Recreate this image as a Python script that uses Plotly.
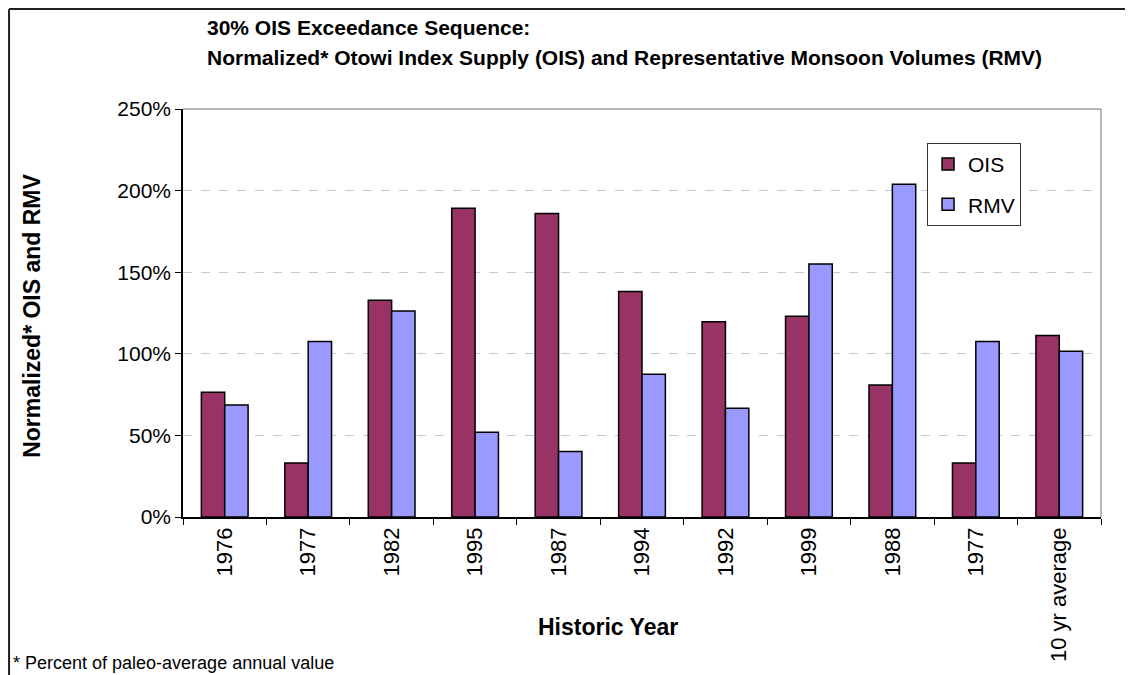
import plotly.graph_objects as go

# categories (1977 shows up twice in the sequence)
year_labels = ["1976", "1977", "1982", "1995", "1987", "1994",
               "1992", "1999", "1988", "1977", "10 yr average"]
# normalized values, fraction of paleo-average annual value
ois = [0.764, 0.331, 1.328, 1.892, 1.859, 1.381, 1.197, 1.230, 0.809, 0.331, 1.112]
rmv = [0.686, 1.075, 1.262, 0.519, 0.401, 0.874, 0.666, 1.550, 2.039, 1.075, 1.015]

x_pos = list(range(len(year_labels)))
FONT = "Liberation Sans, Arial, sans-serif"

fig = go.Figure()
fig.add_trace(go.Bar(x=x_pos, y=ois, name="OIS", legendgroup="a",
                     marker=dict(color="#993366", line=dict(color="black", width=1.5))))
fig.add_trace(go.Bar(x=x_pos, y=rmv, name="RMV", legendgroup="b",
                     marker=dict(color="#9999FF", line=dict(color="black", width=1.5))))

# page body adds 8px, so the figure is 8px smaller and margins shifted
fig.update_layout(
    width=1125, height=667,
    margin=dict(l=175, r=32, t=101, b=158),
    paper_bgcolor="white", plot_bgcolor="white",
    font=dict(family=FONT, color="black", size=20),
    barmode="group", bargap=0.44, bargroupgap=0,
    showlegend=True,
    legend=dict(x=0.8105, y=0.917, xanchor="left", yanchor="top",
                bgcolor="white", bordercolor="#333333", borderwidth=1,
                font=dict(size=21), tracegroupgap=10, traceorder="grouped"),
)

fig.update_xaxes(
    range=[-0.5, len(year_labels) - 0.5],
    tickmode="array", tickvals=x_pos, ticktext=year_labels,
    tickangle=-90, ticks="", showgrid=False, zeroline=False,
    showline=True, linecolor="black", linewidth=1.5,
    tickfont=dict(size=22),
    minor=dict(tickmode="array", tickvals=[i - 0.5 for i in range(len(year_labels) + 1)],
               ticks="outside", ticklen=6, tickcolor="black", showgrid=False),
)
fig.update_yaxes(
    range=[0, 2.5], dtick=0.5, tickformat=".0%",
    ticks="outside", ticklen=6, tickcolor="black",
    showline=True, linecolor="black", linewidth=1.5,
    showgrid=True, gridcolor="#C8C8C8", griddash="dash", gridwidth=1,
    zeroline=False, tickfont=dict(size=21),
)

# plot area border (top/right) and outer chart frame
fig.add_shape(type="line", xref="paper", yref="paper", x0=0, x1=1, y0=1, y1=1,
              line=dict(color="#A0A0A0", width=1.5))
fig.add_shape(type="line", xref="paper", yref="paper", x0=1, x1=1, y0=0, y1=1,
              line=dict(color="#A0A0A0", width=1.5))
fig.add_shape(type="line", xref="paper", yref="paper", x0=-0.1895, x1=1.1, y0=1.245, y1=1.245,
              line=dict(color="#222222", width=2))
fig.add_shape(type="line", xref="paper", yref="paper", x0=-0.1895, x1=-0.1895, y0=1.245, y1=-0.5,
              line=dict(color="#222222", width=2))

# titles and notes
fig.add_annotation(text="<b>30% OIS Exceedance Sequence:</b>", xref="paper", yref="paper",
                   x=0.024, y=1.199, xanchor="left", yanchor="middle", showarrow=False,
                   font=dict(size=21))
fig.add_annotation(text="<b>Normalized* Otowi Index Supply (OIS) and Representative Monsoon Volumes (RMV)</b>",
                   xref="paper", yref="paper", x=0.024, y=1.127, xanchor="left", yanchor="middle",
                   showarrow=False, font=dict(size=21))
fig.add_annotation(text="<b>Normalized* OIS and RMV</b>", xref="paper", yref="paper",
                   x=-0.1645, y=0.493, xanchor="center", yanchor="middle", textangle=-90,
                   showarrow=False, font=dict(size=23))
fig.add_annotation(text="<b>Historic Year</b>", xref="paper", yref="paper",
                   x=0.463, y=-0.27, xanchor="center", yanchor="middle",
                   showarrow=False, font=dict(size=23))
fig.add_annotation(text="* Percent of paleo-average annual value", xref="paper", yref="paper",
                   x=-0.1875, y=-0.358, xanchor="left", yanchor="middle",
                   showarrow=False, font=dict(size=18))

fig.write_html("out.html")
